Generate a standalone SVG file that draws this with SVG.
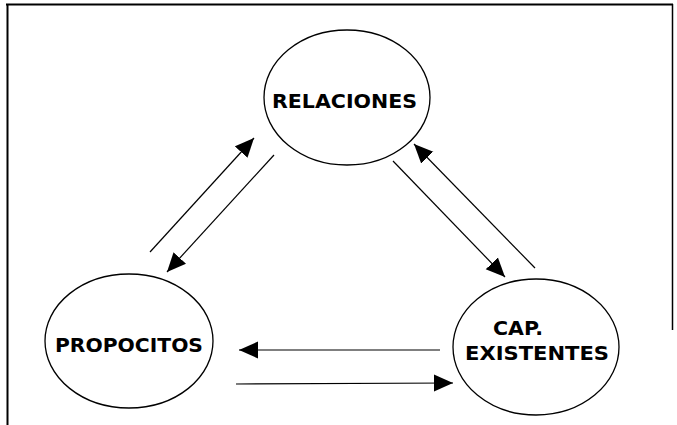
<svg xmlns="http://www.w3.org/2000/svg" width="677" height="425" viewBox="0 0 677 425">
  <style>
    .frame { stroke: #000; fill: none; }
    .node ellipse { fill: #fff; stroke: #000; stroke-width: 1.3; }
    .node text { font-family: "DejaVu Sans", "Verdana", sans-serif; font-weight: bold; font-size: 19px; fill: #000; }
    .conn line { stroke: #000; stroke-width: 1.2; marker-end: url(#arr); }
  </style>
  <defs>
    <marker id="arr" markerUnits="userSpaceOnUse" markerWidth="20" markerHeight="18" refX="19" refY="8.5" orient="auto" viewBox="0 0 20 17">
      <path d="M0,0 L19,8.5 L0,17 z" fill="#000"/>
    </marker>
  </defs>
  <rect width="677" height="425" fill="#fff"/>
  <g id="frame" class="frame">
    <line x1="6" y1="4.5" x2="673" y2="4.5" stroke-width="2"/>
    <line x1="7.5" y1="4" x2="7.5" y2="425" stroke-width="2"/>
    <line x1="672.5" y1="4" x2="672.5" y2="330" stroke-width="1.5"/>
  </g>
  <g id="relaciones" class="node">
    <ellipse cx="347" cy="97.5" rx="83" ry="67.5"/>
    <text x="272" y="108" textLength="145" lengthAdjust="spacingAndGlyphs">RELACIONES</text>
  </g>
  <g id="propocitos" class="node">
    <ellipse cx="129" cy="341" rx="84" ry="67"/>
    <text x="55" y="352" textLength="148" lengthAdjust="spacingAndGlyphs">PROPOCITOS</text>
  </g>
  <g id="cap-existentes" class="node">
    <ellipse cx="536" cy="347" rx="83" ry="68"/>
    <text x="493" y="335" textLength="50" lengthAdjust="spacingAndGlyphs">CAP.</text>
    <text x="465" y="360" textLength="144" lengthAdjust="spacingAndGlyphs">EXISTENTES</text>
  </g>
  <g id="connectors" class="conn">
    <line x1="150" y1="252" x2="254" y2="138"/>
    <line x1="274" y1="155" x2="167" y2="272"/>
    <line x1="393" y1="161" x2="505" y2="277"/>
    <line x1="535" y1="268" x2="414" y2="144"/>
    <line x1="440" y1="350" x2="239" y2="350"/>
    <line x1="236" y1="384" x2="453" y2="383"/>
  </g>
</svg>
